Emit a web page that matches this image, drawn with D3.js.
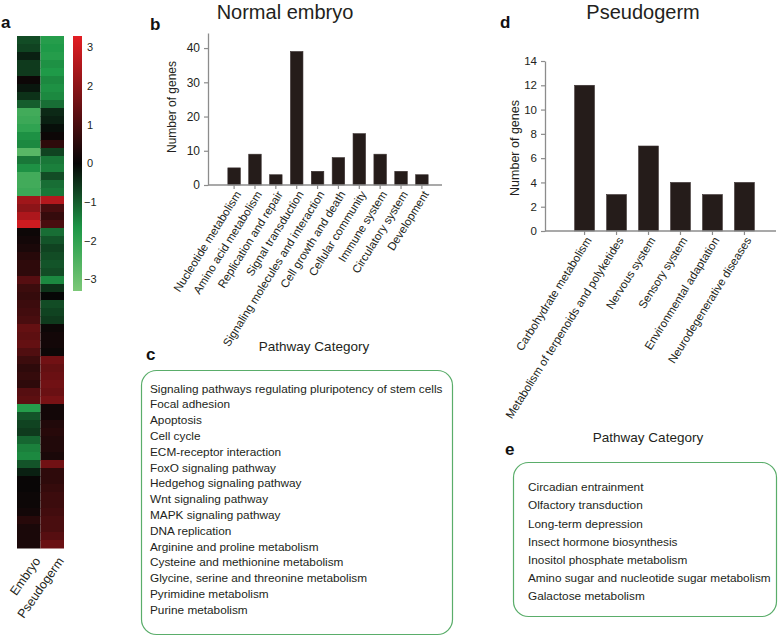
<!DOCTYPE html>
<html><head><meta charset="utf-8">
<script src="https://cdn.jsdelivr.net/npm/d3@7"></script>
<style>
html,body{margin:0;padding:0;background:#fff;}
svg{display:block;font-family:Arial,"Liberation Sans",sans-serif;}
</style></head>
<body>
<svg id="c" width="778" height="636"></svg>
<script>
// ---------- DATA ----------
const heatCols = ["Embryo", "Pseudogerm"];
const heatEmbryo = [-0.8,-0.7,-0.3,-0.6,-0.6,0.1,-0.2,-0.5,-1.0,-2.3,-2.2,-2.0,-1.6,-1.5,-2.7,-1.3,
  -1.6,-2.3,-2.3,-2.2,2.3,2.0,2.5,3.0,0.1,0.2,0.3,0.5,0.6,0.6,1.2,0.8,
  0.7,0.8,0.9,1.0,1.4,1.3,1.4,1.1,0.8,0.6,0.7,0.6,1.2,1.3,-1.8,-0.9,
  -0.7,-0.6,-1.1,-1.4,-1.5,-0.9,-0.3,0.05,0.05,0.1,0.1,0.2,0.5,0.3,0.3,0.3];
const heatPseudo = [-1.8,-1.7,-1.8,-1.6,-1.7,-1.5,-1.6,-1.5,-1.2,-0.4,-0.3,-0.1,0.1,0.6,-0.7,-1.3,
  -1.4,-0.8,-1.2,-1.3,2.6,1.0,0.7,1.0,-1.2,-0.9,-0.7,-0.8,-0.9,-0.8,-1.5,-0.5,
  0.0,-0.8,-0.7,-0.6,0.1,0.2,0.2,0.1,1.6,1.4,1.5,1.6,1.5,1.7,0.2,0.2,
  0.4,0.5,0.4,0.4,0.3,1.6,0.6,0.6,0.7,0.8,0.8,0.9,1.0,1.0,1.2,1.5];
const colorTicks = [3, 2, 1, 0, -1, -2, -3];

const normalCats = ["Nucleotide metabolism","Amino acid metabolism","Replication and repair","Signal transduction",
  "Signaling molecules and interaction","Cell growth and death","Cellular community","Immune system",
  "Circulatory system","Development"];
const normalVals = [5, 9, 3, 39, 4, 8, 15, 9, 4, 3];
const normalTicks = [0, 10, 20, 30, 40];

const pseudoCats = ["Carbohydrate metabolism","Metabolism of terpenoids and polyketides","Nervous system",
  "Sensory system","Environmental adaptation","Neurodegenerative diseases"];
const pseudoVals = [12, 3, 7, 4, 3, 4];
const pseudoTicks = [0, 2, 4, 6, 8, 10, 12, 14];

const normalPathways = ["Signaling pathways regulating pluripotency of stem cells","Focal adhesion","Apoptosis",
  "Cell cycle","ECM-receptor interaction","FoxO signaling pathway","Hedgehog signaling pathway",
  "Wnt signaling pathway","MAPK signaling pathway","DNA replication","Arginine and proline metabolism",
  "Cysteine and methionine metabolism","Glycine, serine and threonine metabolism","Pyrimidine metabolism",
  "Purine metabolism"];
const pseudoPathways = ["Circadian entrainment","Olfactory transduction","Long-term depression",
  "Insect hormone biosynthesis","Inositol phosphate metabolism","Amino sugar and nucleotide sugar metabolism",
  "Galactose metabolism"];

// ---------- DRAW ----------
const svg = d3.select("#c");
const TXT = "#231f20", AX = "#8c8c8c", BAR = "#251c1a", BOX = "#5aad6a";

function letter(t, x, y) {
  svg.append("text").attr("x", x).attr("y", y).attr("font-size", 17).attr("font-weight", "bold")
    .attr("fill", "#111").text(t);
}

// ---- panel a: heatmap ----
const heatColor = d3.scaleLinear().domain([-3.3, -1.7, 0, 3.3])
  .range(["#7cc878", "#1f9a48", "#060606", "#e31d23"]).clamp(true);
const hx = d3.scaleBand().domain(heatCols).range([17, 64]);
const hy = d3.scaleBand().domain(d3.range(heatEmbryo.length)).range([36, 548]);
const gH = svg.append("g");
[heatEmbryo, heatPseudo].forEach((arr, ci) => {
  gH.selectAll(null).data(arr).enter().append("rect")
    .attr("x", hx(heatCols[ci])).attr("width", hx.bandwidth())
    .attr("y", (d, i) => hy(i)).attr("height", hy.bandwidth() + 0.5)
    .attr("fill", d => heatColor(d));
});
heatCols.forEach(c => {
  svg.append("text").attr("font-size", 12.5).attr("fill", TXT).attr("text-anchor", "end")
    .attr("transform", `translate(${hx(c) + hx.bandwidth() / 2 + 5},${556}) rotate(-55)`)
    .attr("dy", "0.7em").text(c);
});
// colorbar
const cbY = d3.scaleLinear().domain([3.3, -3.3]).range([36, 291]);
const defs = svg.append("defs");
const grad = defs.append("linearGradient").attr("id", "cbg").attr("x1", 0).attr("x2", 0).attr("y1", 0).attr("y2", 1);
d3.range(0, 1.0001, 0.05).forEach(t => {
  grad.append("stop").attr("offset", t).attr("stop-color", heatColor(3.3 - 6.6 * t));
});
svg.append("rect").attr("x", 73).attr("y", 36).attr("width", 9).attr("height", 255).attr("fill", "url(#cbg)");
svg.selectAll(null).data(colorTicks).enter().append("text")
  .attr("x", d => d < 0 ? 84 : 87).attr("y", d => cbY(d)).attr("dy", "0.35em")
  .attr("font-size", 11).attr("fill", TXT)
  .text(d => d < 0 ? "\u2212" + Math.abs(d) : d);
letter("a", 1, 28);

// ---- generic bar chart ----
function barChart(o) {
  const x = d3.scaleBand().domain(o.cats).range(o.xr).padding(o.pad);
  const y = d3.scaleLinear().domain([0, o.ymax]).range(o.yr);
  const g = svg.append("g");
  g.selectAll(null).data(o.vals).enter().append("rect")
    .attr("x", (d, i) => x(o.cats[i])).attr("width", x.bandwidth())
    .attr("y", d => y(d)).attr("height", d => y(0) - y(d))
    .attr("fill", BAR).attr("stroke", "#3a3130").attr("stroke-width", 0.6);
  const ya = g.append("g").attr("transform", `translate(${o.axX},0)`)
    .call(d3.axisLeft(y).tickValues(o.ticks).tickSize(4).tickSizeOuter(0).tickPadding(4));
  ya.select(".domain").attr("stroke", AX).attr("stroke-width", 1.3);
  ya.selectAll(".tick line").attr("stroke", AX).attr("stroke-width", 1.2);
  ya.selectAll("text").attr("font-size", o.tfs).attr("fill", TXT).attr("font-family", "Arial,'Liberation Sans',sans-serif");
  // x axis line
  g.append("line").attr("x1", o.axX).attr("x2", o.axEnd).attr("y1", y(0)).attr("y2", y(0))
    .attr("stroke", AX).attr("stroke-width", 1.3);
  g.selectAll(null).data(o.cats).enter().append("line")
    .attr("x1", d => x(d) + x.bandwidth() / 2).attr("x2", d => x(d) + x.bandwidth() / 2)
    .attr("y1", y(0)).attr("y2", y(0) + 4).attr("stroke", AX).attr("stroke-width", 1.2);
  g.selectAll(null).data(o.cats).enter().append("text")
    .attr("font-size", 11.5).attr("fill", TXT).attr("text-anchor", "end")
    .attr("transform", d => `translate(${x(d) + x.bandwidth() / 2 + 4},${y(0) + 7}) rotate(-58)`)
    .attr("dy", "0.35em").text(d => d);
  g.append("text").attr("font-size", o.yfs).attr("fill", TXT).attr("text-anchor", "middle")
    .attr("transform", `translate(${o.ylx},${o.yly}) rotate(-90)`).text("Number of genes");
  g.append("text").attr("font-size", 13.5).attr("fill", TXT).attr("text-anchor", "middle")
    .attr("x", o.pcx).attr("y", o.pcy).text("Pathway Category");
  g.append("text").attr("font-size", 20).attr("fill", TXT).attr("text-anchor", "middle")
    .attr("x", o.tx).attr("y", 19).text(o.title);
}

barChart({cats: normalCats, vals: normalVals, xr: [219.5, 436.5], pad: 0.4, ymax: 44.4, yr: [185, 33],
  ticks: normalTicks, axX: 208, axEnd: 442, tfs: 12, yfs: 12, ylx: 176, yly: 107,
  pcx: 314, pcy: 351, tx: 285, title: "Normal embryo"});
letter("b", 150, 30);

barChart({cats: pseudoCats, vals: pseudoVals, xr: [562.5, 766.5], pad: 0.38, ymax: 14, yr: [231, 61],
  ticks: pseudoTicks, axX: 545, axEnd: 776, tfs: 11.5, yfs: 12.5, ylx: 519, yly: 148,
  pcx: 648, pcy: 442, tx: 643, title: "Pseudogerm"});
letter("d", 500, 28);

// ---- boxes ----
function box(items, bx, by, bw, bh, tx, ty0, step) {
  svg.append("rect").attr("x", bx).attr("y", by).attr("width", bw).attr("height", bh)
    .attr("rx", 15).attr("ry", 15).attr("fill", "none").attr("stroke", BOX).attr("stroke-width", 1.2);
  svg.selectAll(null).data(items).enter().append("text")
    .attr("x", tx).attr("y", (d, i) => ty0 + i * step).attr("dy", "0.35em")
    .attr("font-size", 11.8).attr("fill", TXT).text(d => d);
}
box(normalPathways, 141.5, 370.5, 311, 264, 150, 388.5, 15.8);
letter("c", 146, 360);
box(pseudoPathways, 513.5, 462.5, 263, 154, 528, 487, 18.2);
letter("e", 505, 455);
</script>
</body></html>
